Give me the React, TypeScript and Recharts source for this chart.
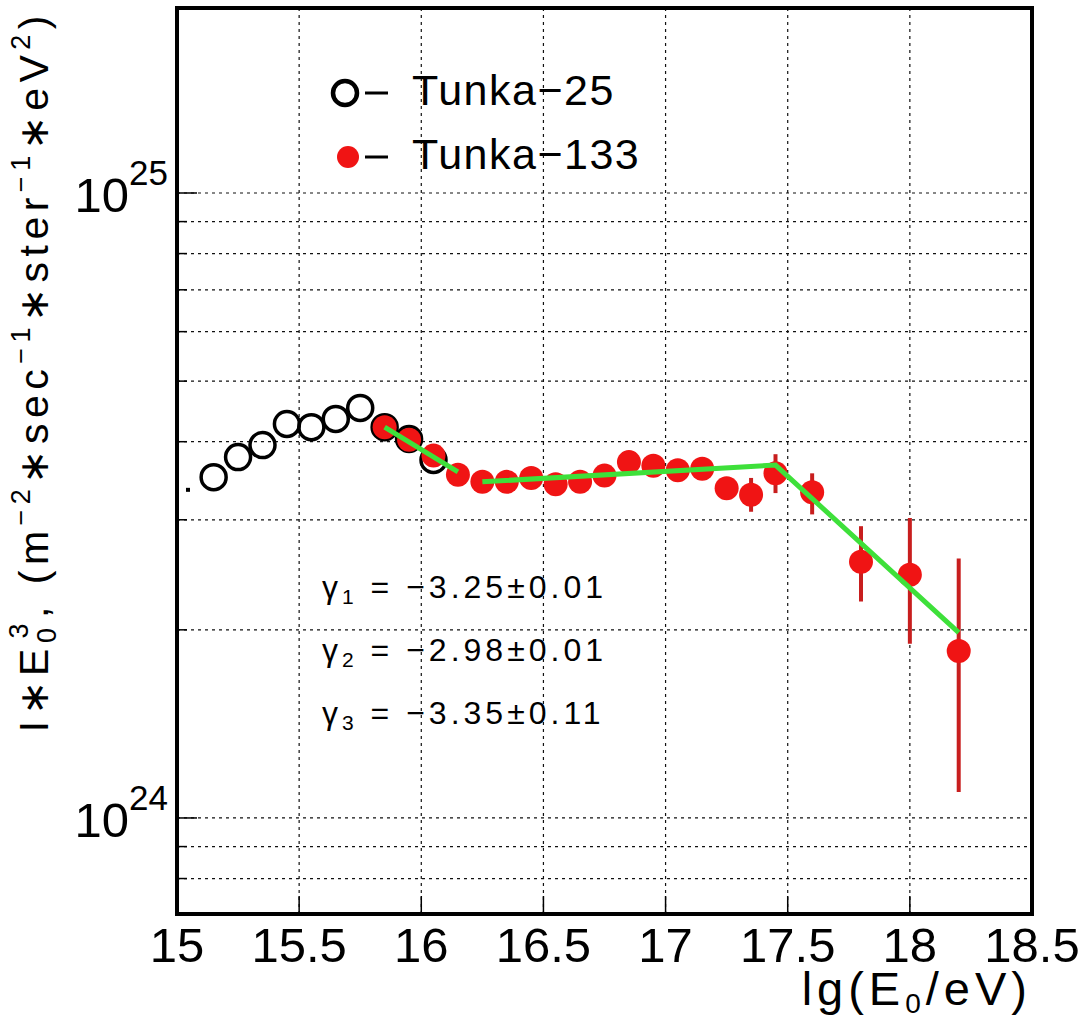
import { ScatterChart, Scatter, XAxis, YAxis, CartesianGrid, ErrorBar, ReferenceArea, Legend } from 'recharts'

// Tunka-25 data (open black circles), lg(E0/eV) vs I*E^3 in units of 1e24
const t25X = [15.15, 15.25, 15.35, 15.45, 15.55, 15.65, 15.75, 15.85, 15.95, 16.05]
const t25Y = [3.51, 3.78, 3.95, 4.27, 4.22, 4.35, 4.53, 4.22, 4.04, 3.74]

// Tunka-133 data (red filled circles)
const t133X = [15.85, 15.95, 16.05, 16.15, 16.25, 16.35, 16.45, 16.55, 16.65, 16.75, 16.85, 16.95, 17.05, 17.15, 17.25, 17.35, 17.45, 17.6, 17.8, 18.0, 18.2]
const t133Y = [4.22, 4.03, 3.8, 3.54, 3.45, 3.45, 3.5, 3.42, 3.45, 3.53, 3.71, 3.66, 3.6, 3.62, 3.37, 3.29, 3.56, 3.32, 2.57, 2.45, 1.85]
const t133ErrLo = [0, 0, 0, 0, 0, 0, 0, 0, 0, 0, 0, 0, 0, 0, 0, 0.2, 0.25, 0.26, 0.35, 0.55, 0.75]
const t133ErrHi = [0, 0, 0, 0, 0, 0, 0, 0, 0, 0, 0, 0, 0, 0, 0, 0.21, 0.26, 0.24, 0.36, 0.57, 0.75]

// broken power-law fit (green)
const fit1X = [15.85, 16.15]
const fit1Y = [4.22, 3.58]
const fit2X = [16.25, 17.45, 18.2]
const fit2Y = [3.45, 3.67, 1.98]

// stray marker near the left edge
const strayX = [15.045]
const strayY = [3.35]

const xTicks = [15, 15.5, 16, 16.5, 17, 17.5, 18, 18.5]
const yTicks = [0.8, 0.9, 1, 2, 3, 4, 5, 6, 7, 8, 9, 10]
const yDecades = [1, 10]
const yDomain = [0.702, 19.77]

const legendOrder = ['Tunka-25', 'Tunka-133']

const gammaLines = [
  { idx: '1', text: '−3.25±0.01' },
  { idx: '2', text: '−2.98±0.01' },
  { idx: '3', text: '−3.35±0.11' },
]

const FONT = '"Liberation Sans", Arial, Helvetica, sans-serif'
const RED = '#f01414'
const ERR_RED = '#c81e1e'
const GREEN = '#3ee03a'

const t25 = t25X.map((x, i) => ({ x, y: t25Y[i] }))
const t133 = t133X.map((x, i) => ({ x, y: t133Y[i], err: [t133ErrLo[i], t133ErrHi[i]] }))
const fit1 = fit1X.map((x, i) => ({ x, y: fit1Y[i] }))
const fit2 = fit2X.map((x, i) => ({ x, y: fit2Y[i] }))
const stray = strayX.map((x, i) => ({ x, y: strayY[i] }))

function XTick(props: any) {
  const { x, y, payload } = props
  return (
    <g>
      <line x1={x} y1={y} x2={x} y2={y - 18} stroke="#000" strokeWidth={1.5} />
      <text x={x} y={y + 48} textAnchor="middle" fontFamily={FONT} fontSize={49} fill="#000">
        {payload.value}
      </text>
    </g>
  )
}

function YTick(props: any) {
  const { x, y, payload } = props
  const major = yDecades.includes(payload.value)
  const exp = 24 + Math.round(Math.log10(payload.value))
  return (
    <g>
      <line x1={x} y1={y} x2={x + (major ? 20 : 10)} y2={y} stroke="#000" strokeWidth={1.5} />
      {major && (
        <text x={x - 9} y={y + 19} textAnchor="end" fontFamily={FONT} fontSize={49} fill="#000">
          10
          <tspan dy={-27} fontSize={35}>{exp}</tspan>
        </text>
      )}
    </g>
  )
}

const openCircle = (p: any) => (
  <circle cx={p.cx} cy={p.cy} r={12.5} fill="none" stroke="#000" strokeWidth={3.5} />
)
const redDot = (p: any) => <circle cx={p.cx} cy={p.cy} r={12} fill={RED} />
const strayDot = (p: any) => <rect x={p.cx - 2} y={p.cy - 2} width={4} height={4} fill="#000" />
const noDot = () => <g />

function LegendBox(props: any) {
  const items = (props.payload || [])
    .filter((e: any) => legendOrder.includes(e.value))
    .sort((a: any, b: any) => legendOrder.indexOf(a.value) - legendOrder.indexOf(b.value))
  return (
    <svg width={360} height={130} style={{ display: 'block' }}>
      {items.map((e: any, i: number) => {
        const cy = 33 + i * 64
        return (
          <g key={e.value}>
            {e.value === 'Tunka-25' ? (
              <circle cx={25} cy={cy} r={12} fill="none" stroke="#000" strokeWidth={4.5} />
            ) : (
              <circle cx={28} cy={cy} r={11} fill={RED} />
            )}
            <line x1={45} y1={cy} x2={68} y2={cy} stroke="#000" strokeWidth={3} />
            <text x={92} y={cy + 12} fontFamily={FONT} fontSize={43} letterSpacing={1.5} fill="#000">
              {e.value.replace('-', '−')}
            </text>
          </g>
        )
      })}
    </svg>
  )
}

export default function App() {
  return (
    <div style={{ position: 'absolute', left: 0, top: 0, width: 1090, height: 1024, background: '#fff' }}>
      <ScatterChart width={1090} height={1024} margin={{ top: 8, right: 58, bottom: 0, left: 97 }}>
        <CartesianGrid stroke="#111" strokeDasharray="3 4" strokeWidth={1.2} />
        <XAxis
          type="number"
          dataKey="x"
          domain={[15, 18.5]}
          ticks={xTicks}
          interval={0}
          axisLine={false}
          tickLine={false}
          tickSize={0}
          tickMargin={0}
          height={110}
          tick={<XTick />}
        />
        <YAxis
          type="number"
          dataKey="y"
          scale="log"
          domain={yDomain}
          allowDataOverflow
          ticks={yTicks}
          interval={0}
          axisLine={false}
          tickLine={false}
          tickSize={0}
          tickMargin={0}
          width={80}
          tick={<YTick />}
        />
        <ReferenceArea x1={15} x2={18.5} y1={yDomain[0]} y2={yDomain[1]} fill="none" stroke="#000" strokeWidth={4} />
        <Scatter name="stray" data={stray} shape={strayDot} legendType="none" isAnimationActive={false} />
        <Scatter name="Tunka-25" data={t25} shape={openCircle} isAnimationActive={false} />
        <Scatter name="Tunka-133" data={t133} shape={redDot} isAnimationActive={false}>
          <ErrorBar dataKey="err" direction="y" width={0} stroke={ERR_RED} strokeWidth={4} isAnimationActive={false} />
        </Scatter>
        <Scatter name="fit1" data={fit1} shape={noDot} line={{ stroke: GREEN, strokeWidth: 5 }} legendType="none" isAnimationActive={false} />
        <Scatter name="fit2" data={fit2} shape={noDot} line={{ stroke: GREEN, strokeWidth: 5 }} legendType="none" isAnimationActive={false} />
        <Legend
          layout="vertical"
          align="center"
          verticalAlign="middle"
          content={<LegendBox />}
          wrapperStyle={{ left: 320, top: 60, width: 360, height: 130 }}
        />
      </ScatterChart>
      <svg width={1090} height={1024} style={{ position: 'absolute', left: 0, top: 0, pointerEvents: 'none' }}>
        {gammaLines.map((g, i) => (
          <text key={g.idx} x={322} y={598 + i * 63} fontFamily={FONT} fontSize={32} letterSpacing={4} fill="#000">
            <tspan>γ</tspan>
            <tspan dy={6} fontSize={21}>{g.idx}</tspan>
            <tspan dy={-6}>{' = ' + g.text}</tspan>
          </text>
        ))}
        <text x={1032} y={1005} textAnchor="end" fontFamily={FONT} fontSize={47} letterSpacing={5} fill="#000">
          lg(E<tspan dy={8} fontSize={28}>0</tspan>
          <tspan dy={-8}>/eV)</tspan>
        </text>
        <text transform="translate(48,10) rotate(-90)" textAnchor="end" fontFamily={FONT} fontSize={41} letterSpacing={5.5} fill="#000">
          I∗E<tspan dy={8} fontSize={27}>0</tspan>
          <tspan dx={-16} dy={-28} fontSize={27}>3</tspan>
          <tspan dy={20}>, (m</tspan>
          <tspan dy={-18} fontSize={27}>−2</tspan>
          <tspan dy={18}>∗sec</tspan>
          <tspan dy={-18} fontSize={27}>−1</tspan>
          <tspan dy={18}>∗ster</tspan>
          <tspan dy={-18} fontSize={27}>−1</tspan>
          <tspan dy={18}>∗eV</tspan>
          <tspan dy={-18} fontSize={27}>2</tspan>
          <tspan dy={18}>)</tspan>
        </text>
      </svg>
    </div>
  )
}
